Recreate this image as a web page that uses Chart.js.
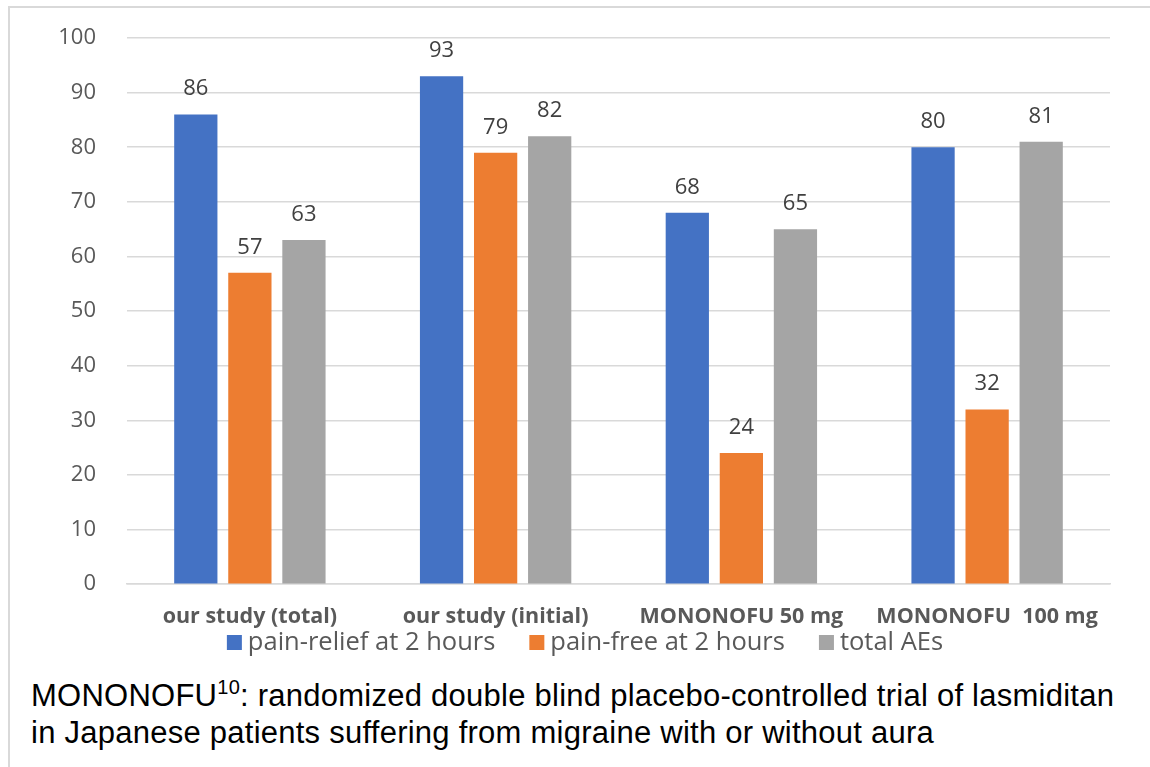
<!DOCTYPE html>
<html>
<head>
<meta charset="utf-8">
<script src="https://cdn.jsdelivr.net/npm/chart.js@4.4.1/dist/chart.umd.min.js"></script>
<style>
  html, body { margin: 0; padding: 0; background: #fff; }
  body { width: 1150px; height: 767px; position: relative; overflow: hidden; }
  #frame { position: absolute; left: 8px; top: 6px; width: 1200px; height: 800px;
           border-left: 2px solid #d9d9d9; border-top: 2px solid #d9d9d9; }
  #wrap { position: absolute; left: 0; top: 0; width: 1150px; height: 665px; }
  #note { position: absolute; left: 31px; top: 677px; font-family: "Liberation Sans", Arial, sans-serif;
          font-size: 31px; line-height: 37px; letter-spacing: 0.25px; color: #000; white-space: nowrap; }
  #note sup { font-size: 20px; line-height: 0; vertical-align: 12px; }
</style>
</head>
<body>
<div id="frame"></div>
<div id="wrap"><canvas id="c" width="1150" height="665"></canvas></div>
<div id="note">MONONOFU<sup>10</sup>: randomized double blind placebo-controlled trial of lasmiditan<br>in Japanese patients suffering from migraine with or without aura</div>
<script>
// categories and series (percent)
const categories = ['our study (total)', 'our study (initial)', 'MONONOFU 50 mg', 'MONONOFU  100 mg'];
const painRelief = [86, 93, 68, 80];
const painFree = [57, 79, 24, 32];
const totalAEs = [63, 82, 65, 81];
const yTicks = [0, 10, 20, 30, 40, 50, 60, 70, 80, 90, 100];

// writes each bar's value above it
const valueLabels = {
  id: 'valueLabels',
  afterDatasetsDraw(chart) {
    const ctx = chart.ctx;
    ctx.save();
    ctx.font = '22px "Open Sans", sans-serif';
    ctx.fillStyle = '#404040';
    ctx.textAlign = 'center';
    ctx.textBaseline = 'alphabetic';
    chart.data.datasets.forEach((ds, i) => {
      chart.getDatasetMeta(i).data.forEach((bar, j) => {
        ctx.fillText(String(ds.data[j]), bar.x, bar.y - 19);
      });
    });
    ctx.restore();
  }
};

// compact one-row legend tucked right under the category labels
const rowLegend = {
  id: 'rowLegend',
  afterDraw(chart, args, opts) {
    const ctx = chart.ctx;
    ctx.save();
    ctx.font = opts.font;
    ctx.textBaseline = 'alphabetic';
    ctx.textAlign = 'left';
    const items = chart.data.datasets.map(ds => ({
      text: ds.label, color: ds.backgroundColor, w: ctx.measureText(ds.label).width
    }));
    const total = items.reduce((s, it) => s + opts.box + opts.gap + it.w, 0) + opts.spacing * (items.length - 1);
    let x = opts.centerX - total / 2;
    items.forEach(it => {
      ctx.fillStyle = it.color;
      ctx.fillRect(x, opts.baseline - opts.box, opts.box, opts.box);
      ctx.fillStyle = opts.color;
      ctx.fillText(it.text, x + opts.box + opts.gap, opts.baseline);
      x += opts.box + opts.gap + it.w + opts.spacing;
    });
    ctx.restore();
  }
};

new Chart(document.getElementById('c'), {
  type: 'bar',
  data: {
    labels: categories,
    datasets: [
      { label: 'pain-relief at 2 hours', data: painRelief, backgroundColor: '#4472C4' },
      { label: 'pain-free at 2 hours', data: painFree, backgroundColor: '#ED7D31' },
      { label: 'total AEs', data: totalAEs, backgroundColor: '#A5A5A5' }
    ]
  },
  options: {
    responsive: false,
    animation: false,
    datasets: { bar: { barPercentage: 0.8, categoryPercentage: 0.66 } },
    layout: { padding: { left: 30, right: 40, top: 38, bottom: 15 } },
    scales: {
      y: {
        min: 0, max: 100,
        afterFit(scale) { scale.width = 97; scale.paddingTop = 0; },
        afterBuildTicks(scale) { scale.ticks = yTicks.map(v => ({ value: v })); },
        ticks: { padding: 31, color: '#595959', font: { family: 'Open Sans', size: 22 } },
        grid: { color: '#d9d9d9', lineWidth: 1.5, drawTicks: false },
        border: { display: false }
      },
      x: {
        ticks: { padding: 20, color: '#595959', maxRotation: 0,
                 font: { family: 'Open Sans', size: 21.5, weight: 'bold' } },
        grid: { display: false, drawTicks: false },
        border: { display: true, color: '#d9d9d9', width: 1.5 }
      }
    },
    plugins: {
      legend: { display: false },
      tooltip: { enabled: false },
      rowLegend: { font: '25.5px "Open Sans", sans-serif', color: '#595959', box: 15, gap: 6,
                   spacing: 34, centerX: 585, baseline: 650 }
    }
  },
  plugins: [valueLabels, rowLegend]
});
</script>
</body>
</html>
